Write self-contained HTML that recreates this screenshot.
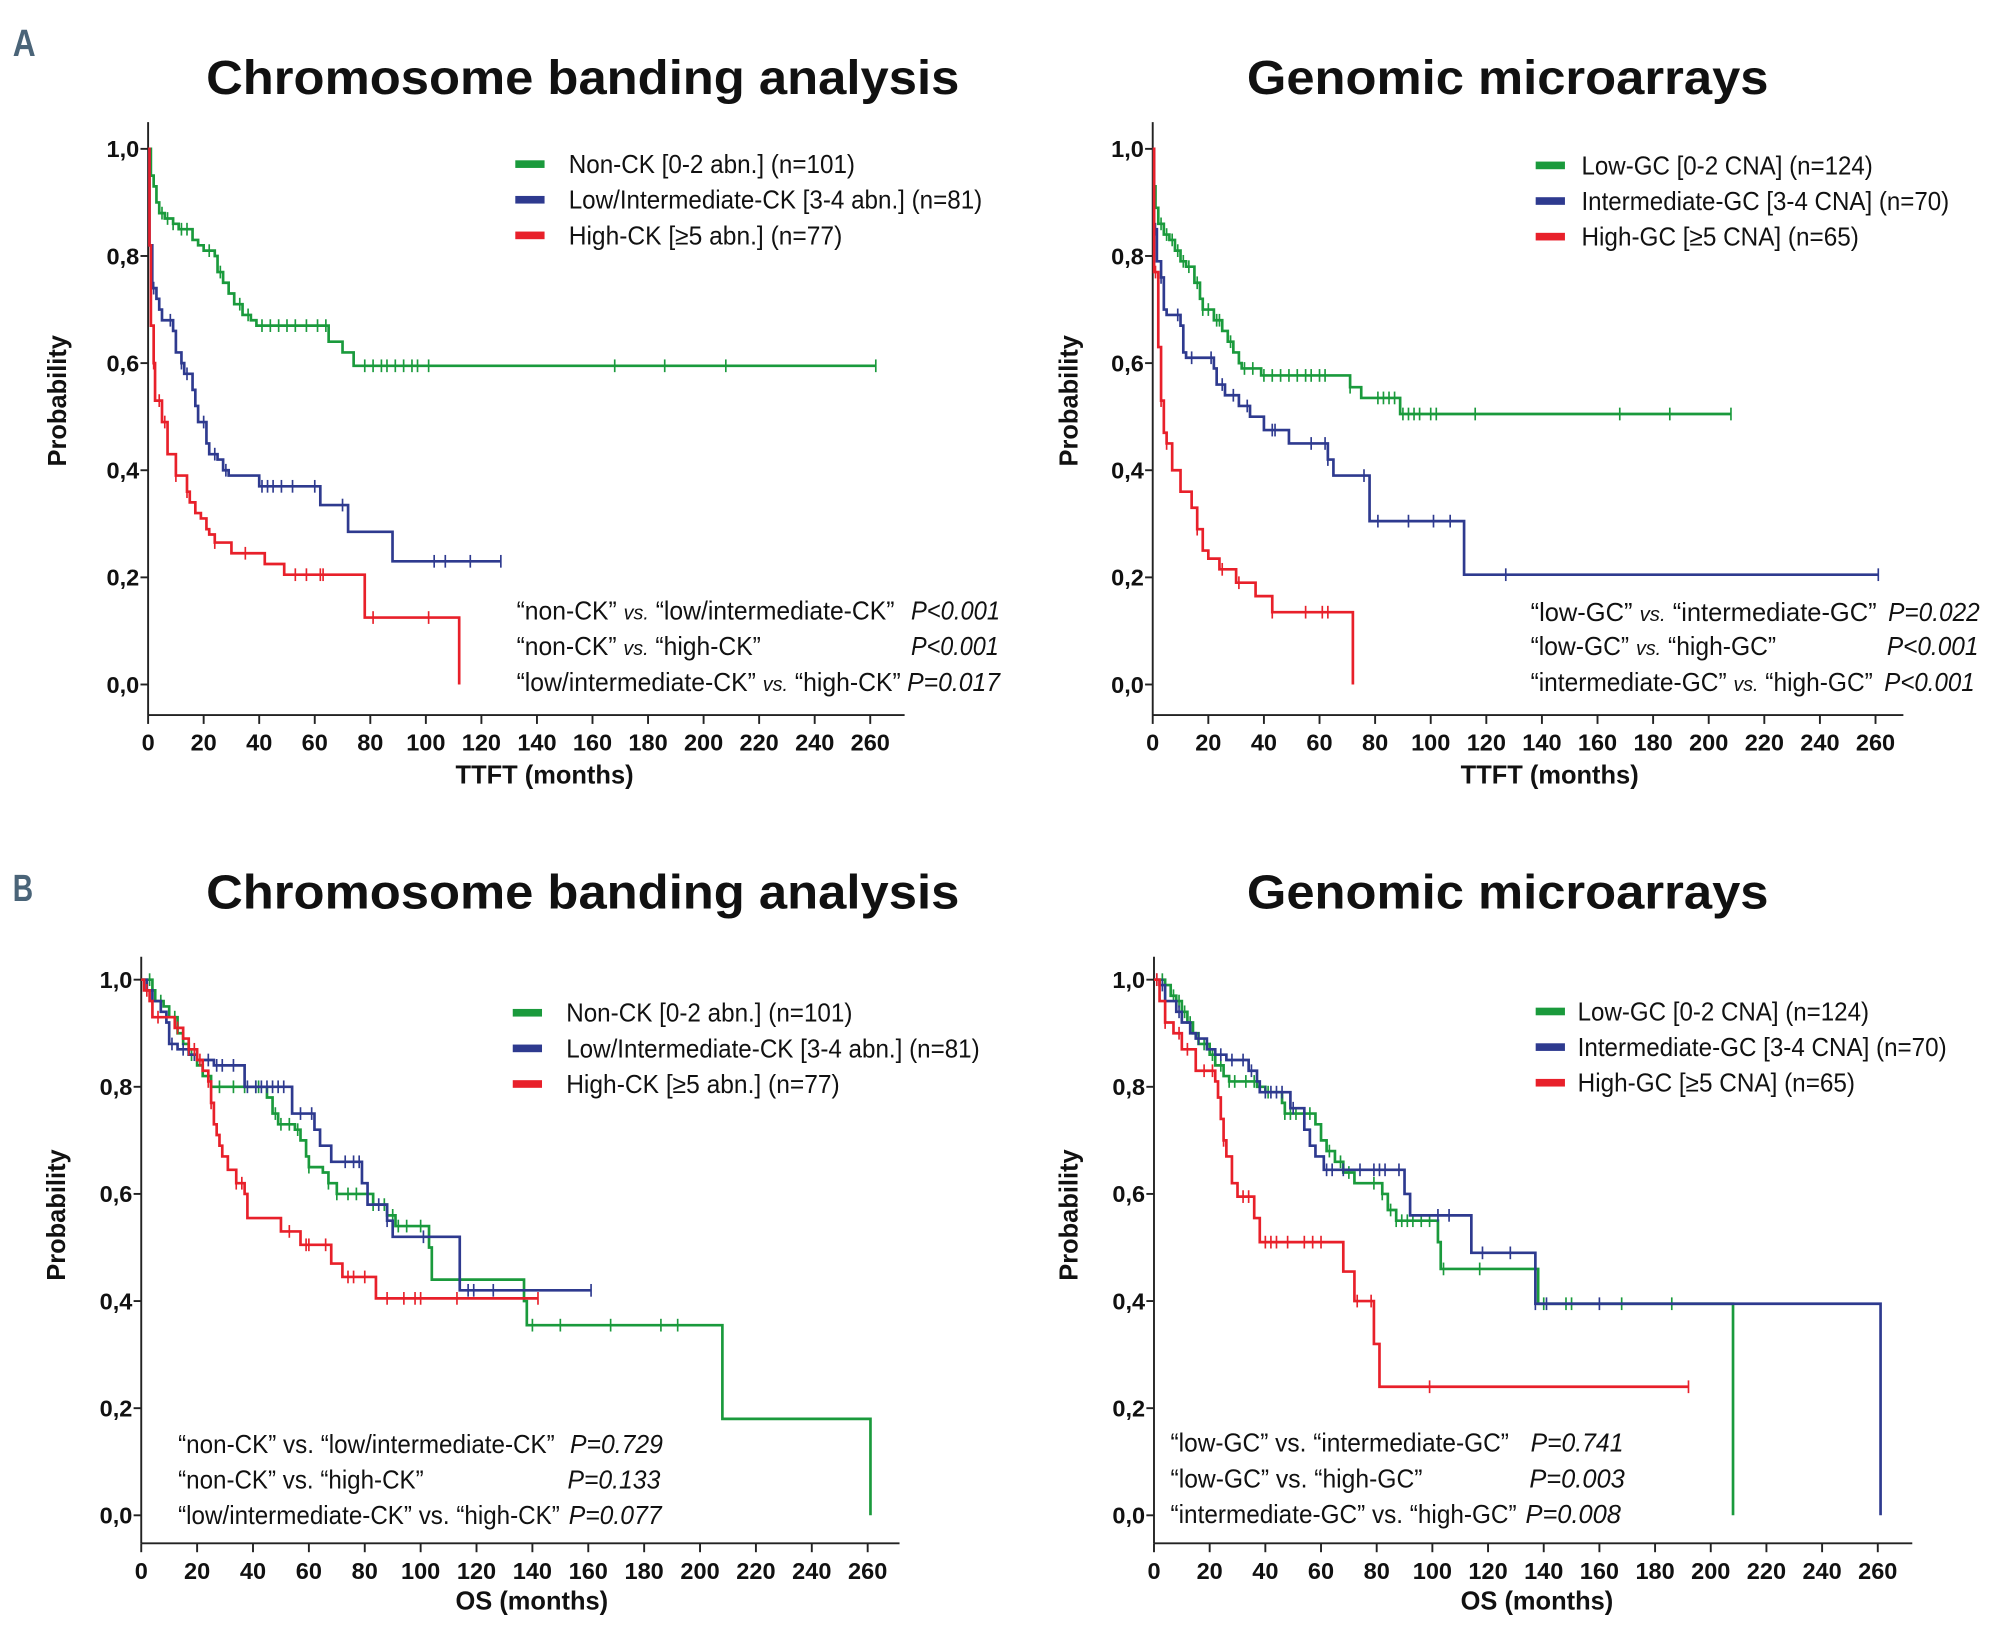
<!DOCTYPE html>
<html><head><meta charset="utf-8">
<style>
html,body{margin:0;padding:0;background:#fff;}
svg{display:block;}
text{font-family:"Liberation Sans",sans-serif;}
</style></head>
<body>
<svg id="fig" width="1995" height="1626" viewBox="0 0 1568 1278" xmlns="http://www.w3.org/2000/svg">
<text x="10" y="44" font-size="30" font-weight="bold" fill="#4a6478" textLength="18" lengthAdjust="spacingAndGlyphs">A</text>
<text x="10" y="708" font-size="30" font-weight="bold" fill="#4a6478" textLength="16" lengthAdjust="spacingAndGlyphs">B</text>
</svg>
<script>
// ---------- DATA (time in months, survival probability) ----------
const xTickLabels = [0,20,40,60,80,100,120,140,160,180,200,220,240,260];
const yTickLabels = ["0,0","0,2","0,4","0,6","0,8","1,0"];
const yTickValues = [0,0.2,0.4,0.6,0.8,1.0];

// Panel A left: TTFT, chromosome banding
const aLeftGreenSteps = [[0,1],[1,0.95],[2,0.93],[3,0.9],[4,0.88],[6,0.87],[9,0.86],[11,0.85],[16,0.83],[18,0.82],[20,0.81],[24,0.8],[25,0.77],[27,0.75],[29,0.73],[31,0.71],[34,0.69],[37,0.68],[39,0.67],[65,0.64],[70,0.62],[74,0.595]];
const aLeftGreenEnd = 262;
const aLeftGreenCensor = [5,7,9,12,14,22,26,33,36,41,44,47,50,53,57,61,64,78,81,84,86,89,92,95,97,101,168,186,208,262];
const aLeftBlueSteps = [[0,1],[0.5,0.82],[1.5,0.74],[3,0.72],[4,0.7],[5,0.68],[9,0.66],[10,0.62],[12,0.6],[13,0.58],[16,0.55],[17,0.52],[18,0.49],[21,0.45],[22,0.43],[25,0.42],[27,0.4],[29,0.39],[40,0.37],[62,0.335],[72,0.285],[88,0.23]];
const aLeftBlueEnd = 127;
const aLeftBlueCensor = [2,8,12,14,20,24,28,41,43,45,48,52,60,70,103,107,116,127];
const aLeftRedSteps = [[0,1],[0.5,0.82],[1,0.67],[2,0.6],[2.5,0.53],[5,0.49],[7,0.43],[10,0.39],[14,0.36],[15,0.34],[17,0.32],[19,0.31],[21,0.29],[22,0.28],[24,0.265],[30,0.245],[42,0.225],[49,0.205],[78,0.125],[112,0]];
const aLeftRedEnd = 112;
const aLeftRedCensor = [2,4,6,10,14,24,35,53,57,62,63,81,101];

// Panel A right: TTFT, genomic microarrays
const aRightGreenSteps = [[0,1],[0.5,0.93],[1,0.89],[2,0.86],[4,0.84],[6,0.83],[8,0.81],[10,0.79],[12,0.78],[15,0.75],[17,0.72],[18,0.7],[22,0.68],[25,0.66],[27,0.64],[29,0.62],[31,0.6],[32,0.59],[39,0.577],[71,0.555],[75,0.535],[89,0.505]];
const aRightGreenEnd = 208;
const aRightGreenCensor = [3,5,7,9,11,13,16,18,20,23,24,28,33,36,40,43,46,49,52,55,57,60,62,71,81,83,85,87,90,92,94,96,100,102,116,168,186,208];
const aRightBlueSteps = [[0,1],[0.5,0.85],[1.5,0.79],[3,0.76],[4,0.7],[5,0.69],[10,0.67],[11,0.62],[12,0.61],[22,0.59],[23,0.56],[26,0.54],[31,0.52],[35,0.5],[40,0.475],[49,0.45],[63,0.42],[65,0.39],[78,0.305],[112,0.205]];
const aRightBlueEnd = 261;
const aRightBlueCensor = [1,3,9,14,21,25,29,34,43,44,57,62,63,76,81,92,101,107,127,261];
const aRightRedSteps = [[0,1],[0.5,0.77],[2,0.63],[3,0.53],[4,0.47],[5,0.45],[7,0.4],[10,0.36],[14,0.33],[16,0.29],[18,0.25],[20,0.235],[24,0.215],[30,0.19],[37,0.165],[43,0.135],[72,0]];
const aRightRedEnd = 72;
const aRightRedCensor = [1,3,5,16,25,31,43,55,61,63];

// Panel B left: OS, chromosome banding
const bLeftGreenSteps = [[0,1],[4,0.98],[5,0.96],[8,0.95],[10,0.93],[13,0.9],[15,0.88],[17,0.86],[20,0.84],[22,0.82],[25,0.8],[45,0.78],[47,0.75],[49,0.73],[55,0.72],[57,0.7],[59,0.67],[60,0.65],[65,0.64],[67,0.62],[70,0.6],[83,0.58],[88,0.56],[91,0.54],[103,0.5],[104,0.44],[137,0.4],[138,0.355],[208,0.18],[261,0]];
const bLeftGreenEnd = 261;
const bLeftGreenCensor = [3,7,12,18,28,33,37,41,42,48,50,53,56,60,67,70,74,77,83,87,90,92,95,100,140,150,168,186,192];
const bLeftBlueSteps = [[0,1],[2,0.98],[4,0.96],[7,0.94],[9,0.92],[10,0.88],[13,0.87],[17,0.86],[20,0.85],[26,0.84],[37,0.8],[54,0.75],[62,0.72],[64,0.69],[68,0.66],[79,0.62],[81,0.58],[88,0.55],[90,0.52],[114,0.42]];
const bLeftBlueEnd = 161;
const bLeftBlueCensor = [4,11,15,19,24,27,29,33,38,41,43,45,47,49,51,57,61,73,76,78,85,88,101,117,119,126,161];
const bLeftRedSteps = [[0,1],[1,0.98],[3,0.96],[4,0.93],[12,0.91],[15,0.89],[17,0.87],[20,0.85],[22,0.83],[24,0.81],[25,0.77],[26,0.73],[27,0.71],[28,0.69],[29,0.67],[31,0.645],[34,0.62],[37,0.6],[38,0.555],[50,0.53],[57,0.505],[68,0.47],[72,0.445],[84,0.405]];
const bLeftRedEnd = 142;
const bLeftRedCensor = [2,6,13,17,19,21,24,25,34,36,53,59,60,66,74,76,80,88,94,98,100,113,142];

// Panel B right: OS, genomic microarrays
const bRightGreenSteps = [[0,1],[4,0.99],[6,0.97],[8,0.96],[10,0.94],[12,0.92],[14,0.9],[16,0.88],[20,0.86],[22,0.84],[25,0.82],[27,0.81],[37,0.8],[40,0.79],[46,0.77],[47,0.75],[58,0.73],[60,0.7],[62,0.68],[65,0.66],[68,0.64],[72,0.62],[82,0.6],[84,0.57],[87,0.55],[102,0.51],[103,0.46],[138,0.395],[208,0]];
const bRightGreenEnd = 208;
const bRightGreenCensor = [3,7,9,11,13,18,21,24,27,29,33,36,41,47,49,51,56,63,67,70,79,82,85,87,89,91,93,96,99,104,117,140,148,150,168,186];
const bRightBlueSteps = [[0,1],[2,0.99],[4,0.96],[8,0.94],[10,0.92],[13,0.9],[15,0.89],[19,0.87],[22,0.86],[26,0.85],[34,0.83],[37,0.81],[38,0.79],[49,0.76],[54,0.72],[56,0.69],[58,0.67],[61,0.645],[90,0.6],[92,0.56],[114,0.49],[137,0.395],[261,0]];
const bRightBlueEnd = 261;
const bRightBlueCensor = [1,3,9,16,24,28,32,35,40,42,44,46,50,62,64,68,74,79,81,83,88,102,106,118,128,137,141,160];
const bRightRedSteps = [[0,1],[2,0.96],[4,0.92],[7,0.9],[10,0.87],[15,0.83],[22,0.81],[23,0.78],[24,0.74],[25,0.7],[26,0.67],[28,0.62],[30,0.595],[36,0.555],[38,0.51],[68,0.455],[72,0.4],[79,0.32],[81,0.24]];
const bRightRedEnd = 192;
const bRightRedCensor = [1,4,9,12,18,21,25,32,34,40,42,44,48,54,57,60,73,78,99,192];

// ---------- RENDERING ----------
const NS = "http://www.w3.org/2000/svg";
const svg = document.getElementById("fig");
const COL = {green:"#1a9a3c", blue:"#2e3a8f", red:"#e8202a"};

function mk(tag, attrs, parent) {
  const el = document.createElementNS(NS, tag);
  for (const k in attrs) el.setAttribute(k, attrs[k]);
  (parent || svg).appendChild(el);
  return el;
}
function txt(str, attrs, parent) {
  const t = mk("text", attrs, parent);
  t.textContent = str;
  return t;
}
function survAt(steps, t) {
  let s = steps[0][1];
  for (const p of steps) { if (p[0] <= t) s = p[1]; }
  return s;
}

const panels = [
 {id:"a-left", x0:116.4, kx:2.183, y0:538, y1:117, axTop:96, axBot:562, axRight:711, title:"Chromosome banding analysis", tw:592, tx:458, ty:74, ylx:45, yly:315, xTitle:"TTFT (months)", xtx:428, xty:616,
  series:[["green",aLeftGreenSteps,aLeftGreenEnd,aLeftGreenCensor],["blue",aLeftBlueSteps,aLeftBlueEnd,aLeftBlueCensor],["red",aLeftRedSteps,aLeftRedEnd,aLeftRedCensor]],
  legend:{sx:405, tx:447, y:[129,157,185], labels:["Non-CK [0-2 abn.] (n=101)","Low/Intermediate-CK [3-4 abn.] (n=81)","High-CK [≥5 abn.] (n=77)"], w:[225,325,215]},
  pv:{x:406, y:[487,515,543], a:[["“non-CK” ","vs.",  " “low/intermediate-CK”"],["“non-CK” ","vs."," “high-CK”"],["“low/intermediate-CK” ","vs."," “high-CK”"]], w:[297,192,302], italic:true, px:[716,716,713], p:["P<0.001","P<0.001","P=0.017"], pw:[70,69,73]}},
 {id:"a-right", x0:906, kx:2.185, y0:538, y1:117, axTop:96, axBot:562, axRight:1496, title:"Genomic microarrays", tw:410, tx:1185, ty:74, ylx:840, yly:315, xTitle:"TTFT (months)", xtx:1218, xty:616,
  series:[["green",aRightGreenSteps,aRightGreenEnd,aRightGreenCensor],["blue",aRightBlueSteps,aRightBlueEnd,aRightBlueCensor],["red",aRightRedSteps,aRightRedEnd,aRightRedCensor]],
  legend:{sx:1207, tx:1243, y:[130,158,186], labels:["Low-GC [0-2 CNA] (n=124)","Intermediate-GC [3-4 CNA] (n=70)","High-GC [≥5 CNA] (n=65)"], w:[229,289,218]},
  pv:{x:1203, y:[488,515,543], a:[["“low-GC” ","vs."," “intermediate-GC”"],["“low-GC” ","vs."," “high-GC”"],["“intermediate-GC” ","vs."," “high-GC”"]], w:[272,193,269], italic:true, px:[1484,1483,1481], p:["P=0.022","P<0.001","P<0.001"], pw:[72,72,71]}},
 {id:"b-left", x0:111, kx:2.196, y0:1191, y1:770, axTop:752, axBot:1213, axRight:707, title:"Chromosome banding analysis", tw:592, tx:458, ty:714, ylx:44, yly:955, xTitle:"OS (months)", xtx:418, xty:1265,
  series:[["green",bLeftGreenSteps,bLeftGreenEnd,bLeftGreenCensor],["blue",bLeftBlueSteps,bLeftBlueEnd,bLeftBlueCensor],["red",bLeftRedSteps,bLeftRedEnd,bLeftRedCensor]],
  legend:{sx:403, tx:445, y:[796,824,852], labels:["Non-CK [0-2 abn.] (n=101)","Low/Intermediate-CK [3-4 abn.] (n=81)","High-CK [≥5 abn.] (n=77)"], w:[225,325,215]},
  pv:{x:140, y:[1142,1170,1198], a:[["“non-CK” vs. “low/intermediate-CK”"],["“non-CK” vs. “high-CK”"],["“low/intermediate-CK” vs. “high-CK”"]], w:[296,193,300], italic:false, px:[448,446,447], p:["P=0.729","P=0.133","P=0.077"], pw:[73,73,73]}},
 {id:"b-right", x0:907, kx:2.188, y0:1191, y1:770, axTop:752, axBot:1213, axRight:1503, title:"Genomic microarrays", tw:410, tx:1185, ty:714, ylx:840, yly:955, xTitle:"OS (months)", xtx:1208, xty:1265,
  series:[["green",bRightGreenSteps,bRightGreenEnd,bRightGreenCensor],["blue",bRightBlueSteps,bRightBlueEnd,bRightBlueCensor],["red",bRightRedSteps,bRightRedEnd,bRightRedCensor]],
  legend:{sx:1207, tx:1240, y:[795,823,851], labels:["Low-GC [0-2 CNA] (n=124)","Intermediate-GC [3-4 CNA] (n=70)","High-GC [≥5 CNA] (n=65)"], w:[229,290,218]},
  pv:{x:920, y:[1141,1169,1197], a:[["“low-GC” vs. “intermediate-GC”"],["“low-GC” vs. “high-GC”"],["“intermediate-GC” vs. “high-GC”"]], w:[266,198,272], italic:false, px:[1203,1202,1199], p:["P=0.741","P=0.003","P=0.008"], pw:[73,75,75]}}
];

panels.forEach(P => {
  const g = mk("g", {});
  
  
  const X = t => P.x0 + t * P.kx;
  const Y = s => P.y0 - s * (P.y0 - P.y1);

  const title = txt(P.title, {x:P.tx - P.tw/2, y:P.ty, "font-size":38, "font-weight":"bold", fill:"#111", textLength:P.tw, lengthAdjust:"spacingAndGlyphs"}, g);
  
  

  // axes
  const ya = mk("line", {x1:P.x0, y1:P.axTop, x2:P.x0, y2:P.axBot, stroke:"#222", "stroke-width":1.5}, g);
  
  
  const xa = mk("line", {x1:P.x0, y1:P.axBot, x2:P.axRight, y2:P.axBot, stroke:"#222", "stroke-width":1.5}, g);
  
  

  yTickValues.forEach((v, i) => {
    mk("line", {x1:P.x0-6, y1:Y(v), x2:P.x0, y2:Y(v), stroke:"#222", "stroke-width":1.5}, g);
    const tl = txt(yTickLabels[i], {x:P.x0-7, y:Y(v)+6.5, "font-size":18.5, "font-weight":"bold", "text-anchor":"end", fill:"#111"}, g);
    
    
  });
  xTickLabels.forEach(v => {
    mk("line", {x1:X(v), y1:P.axBot, x2:X(v), y2:P.axBot+7, stroke:"#222", "stroke-width":1.5}, g);
    const tl = txt(String(v), {x:X(v), y:P.axBot+28, "font-size":18.5, "font-weight":"bold", "text-anchor":"middle", fill:"#111"}, g);
    
    
  });
  const yl = txt("Probability", {x:0, y:0, "font-size":20, "font-weight":"bold", "text-anchor":"middle", fill:"#111", transform:"translate(" + (P.ylx+7) + "," + P.yly + ") rotate(-90)"}, g);
  
  
  const xl = txt(P.xTitle, {x:P.xtx, y:P.xty, "font-size":20, "font-weight":"bold", "text-anchor":"middle", fill:"#111"}, g);
  
  

  // curves
  P.series.forEach(sr => {
    const [c, steps, end, cens] = sr;
    let d = "M" + X(steps[0][0]) + "," + Y(steps[0][1]);
    for (let i = 1; i < steps.length; i++) {
      d += " H" + X(steps[i][0]) + " V" + Y(steps[i][1]);
    }
    const last = steps[steps.length-1];
    if (end > last[0]) d += " H" + X(end);
    const path = mk("path", {d:d, fill:"none", stroke:COL[c], "stroke-width":2.1}, g);
    
    
    cens.forEach(t => {
      const s = survAt(steps, t);
      const m = mk("line", {x1:X(t), y1:Y(s)-5, x2:X(t), y2:Y(s)+5, stroke:COL[c], "stroke-width":1.3}, g);
      
      
    });
  });

  // legend
  const L = P.legend;
  ["green","blue","red"].forEach((c, i) => {
    const sw = mk("rect", {x:L.sx, y:L.y[i]-3, width:23, height:6, fill:COL[c]}, g);
    
    
    const lt = txt(L.labels[i], {x:L.tx, y:L.y[i]+7, "font-size":20, fill:"#111", textLength:L.w[i], lengthAdjust:"spacingAndGlyphs"}, g);
    
    
  });

  // p-values
  const V = P.pv;
  V.a.forEach((parts, i) => {
    const t = mk("text", {x:V.x, y:V.y[i], "font-size":20, fill:"#111", textLength:V.w[i], lengthAdjust:"spacingAndGlyphs"}, g);
    
    
    parts.forEach((p, j) => {
      const ts = document.createElementNS(NS, "tspan");
      ts.textContent = p;
      if (j === 1) { ts.setAttribute("font-style", "italic"); ts.setAttribute("font-size", "16"); }
      t.appendChild(ts);
    });
    const pt = txt(V.p[i], {x:V.px[i], y:V.y[i], "font-size":20, "font-style":"italic", fill:"#111", textLength:V.pw[i], lengthAdjust:"spacingAndGlyphs"}, g);
    
    
  });
});
</script>
</body></html>
